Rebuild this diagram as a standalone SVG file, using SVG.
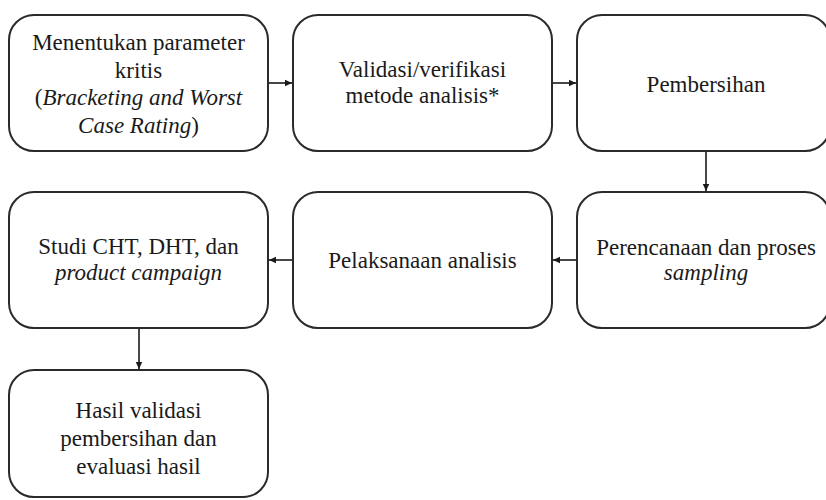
<svg xmlns="http://www.w3.org/2000/svg" width="826" height="500" viewBox="0 0 826 500">
<defs>
<style>
.box{fill:#fff;stroke:#2a2a2a;stroke-width:2}
.t{font-family:"Liberation Serif","Times New Roman",serif;font-size:23px;fill:#1a1a1a;text-anchor:middle}
.i{font-style:italic}
.c{stroke:#1a1a1a;stroke-width:1.6;fill:none;marker-end:url(#ah)}
</style>
<marker id="ah" markerWidth="8" markerHeight="8" refX="7" refY="4" orient="auto" markerUnits="userSpaceOnUse">
<path d="M0,0.8 L7,4 L0,7.2 Z" fill="#1a1a1a"/>
</marker>
</defs>
<rect width="826" height="500" fill="#fff"/>
<g id="connectors">
<line class="c" x1="268" y1="83" x2="292" y2="83"/>
<line class="c" x1="552" y1="83" x2="576" y2="83"/>
<line class="c" x1="706" y1="151" x2="706" y2="191"/>
<line class="c" x1="577" y1="260" x2="553" y2="260"/>
<line class="c" x1="293" y1="260" x2="269" y2="260"/>
<line class="c" x1="139" y1="328" x2="139" y2="369"/>
</g>
<g id="n1">
<rect class="box" x="9" y="15" width="259" height="136" rx="25"/>
<text class="t" x="138.5" y="50">Menentukan parameter</text>
<text class="t" x="138.5" y="77.5">kritis</text>
<text class="t" x="138.5" y="105">(<tspan class="i">Bracketing and Worst</tspan></text>
<text class="t" x="138.5" y="132.5"><tspan class="i">Case Rating</tspan>)</text>
</g>
<g id="n2">
<rect class="box" x="293" y="15" width="259" height="136" rx="25"/>
<text class="t" x="422.5" y="77">Validasi/verifikasi</text>
<text class="t" x="422.5" y="103">metode analisis*</text>
</g>
<g id="n3">
<rect class="box" x="577" y="15" width="253" height="136" rx="25"/>
<text class="t" x="706" y="92">Pembersihan</text>
</g>
<g id="n4">
<rect class="box" x="577" y="192" width="253" height="136" rx="25"/>
<text class="t" x="706" y="255">Perencanaan dan proses</text>
<text class="t i" x="706" y="280">sampling</text>
</g>
<g id="n5">
<rect class="box" x="293" y="192" width="259" height="136" rx="25"/>
<text class="t" x="422.5" y="268">Pelaksanaan analisis</text>
</g>
<g id="n6">
<rect class="box" x="9" y="192" width="259" height="136" rx="25"/>
<text class="t" x="138.5" y="254">Studi CHT, DHT, dan</text>
<text class="t i" x="138.5" y="280">product campaign</text>
</g>
<g id="n7">
<rect class="box" x="9" y="370" width="259" height="127" rx="25"/>
<text class="t" x="138.5" y="418">Hasil validasi</text>
<text class="t" x="138.5" y="446">pembersihan dan</text>
<text class="t" x="138.5" y="474">evaluasi hasil</text>
</g>
</svg>
